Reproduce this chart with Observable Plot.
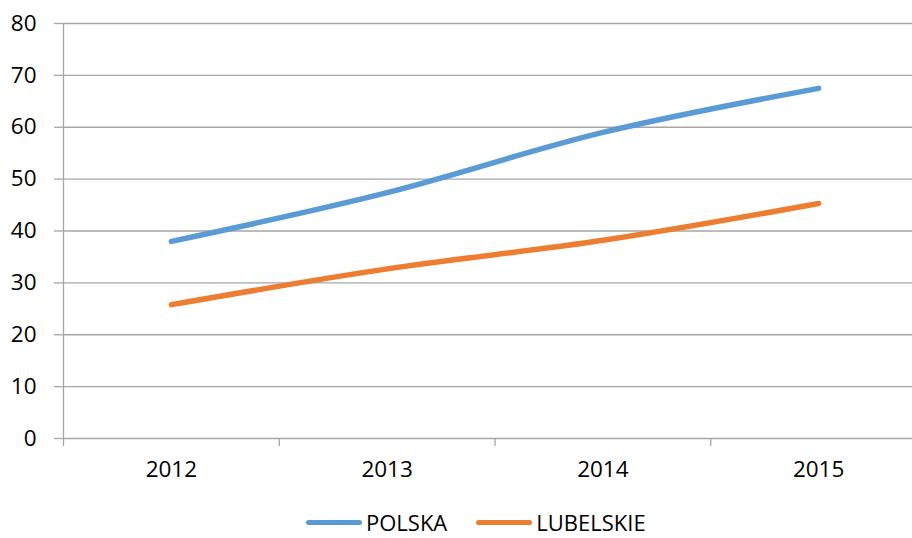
<!DOCTYPE html>
<html>
<head>
<meta charset="utf-8">
<script src="https://cdn.jsdelivr.net/npm/d3@7"></script>
<script src="https://cdn.jsdelivr.net/npm/@observablehq/plot@0.6"></script>
<style>
  html, body { margin: 0; padding: 0; background: #fff; }
  #wrap { width: 912px; height: 538px; overflow: hidden; position: relative; font-family: "Open Sans", sans-serif; }
  #chart { width: 926px; height: 500px; }
  #legend { position: absolute; top: 513px; left: 306px; display: flex; align-items: center; font-size: 22px; line-height: 18px; height: 18px; color: #000; white-space: nowrap; }
  .sw { display: inline-block; width: 56px; height: 5px; border-radius: 3px; margin-right: 4px; }
  .item { display: flex; align-items: center; margin-right: 29px; }
  .lbl { display: inline-block; height: 18px; line-height: 18px; }
</style>
</head>
<body>
<div id="wrap">
  <div id="chart"></div>
  <div id="legend"></div>
</div>
<script>
const years = [2012, 2013, 2014, 2015];
const polska = [38, 47.4, 59, 67.5];
const lubelskie = [25.8, 32.7, 38.2, 45.3];
const seriesNames = ["POLSKA", "LUBELSKIE"];
const seriesColors = ["#5B9BD5", "#ED7D31"];
const yTicks = [0, 10, 20, 30, 40, 50, 60, 70, 80];

const data = [];
years.forEach((yr, i) => {
  data.push({year: yr, value: polska[i], series: seriesNames[0]});
  data.push({year: yr, value: lubelskie[i], series: seriesNames[1]});
});

const xDomain = [years[0] - 0.5, years[years.length - 1] + 0.5];
const boundaries = d3.range(xDomain[0], xDomain[1] + 0.01, 1);
const gridColor = "#a6a6a6";

const chart = Plot.plot({
  width: 926,
  height: 500,
  marginLeft: 63,
  marginRight: 0,
  marginTop: 23,
  marginBottom: 62,
  style: {fontFamily: "Open Sans, sans-serif", fontSize: "22.5px", color: "#000", background: "#fff", overflow: "hidden"},
  x: {domain: xDomain, type: "linear"},
  y: {domain: [0, 80]},
  color: {domain: seriesNames, range: seriesColors},
  marks: [
    Plot.gridY(yTicks, {stroke: gridColor, strokeOpacity: 1, strokeWidth: 1.3}),
    Plot.ruleX([xDomain[0]], {y1: 0, y2: 80, stroke: gridColor, strokeWidth: 1.3}),
    Plot.axisY(yTicks, {tickSize: 9, tickPadding: 18, stroke: gridColor, strokeWidth: 1.3, label: null, fill: "#000"}),
    Plot.axisX(boundaries, {tickSize: 8, tickFormat: () => "", stroke: gridColor, strokeWidth: 1.3, label: null}),
    Plot.axisX(years, {tickSize: 0, tickPadding: 23, tickFormat: d => String(d), label: null, fill: "#000"}),
    Plot.line(data, {x: "year", y: "value", stroke: "series", z: "series", strokeWidth: 5.5, strokeLinecap: "round", strokeLinejoin: "round", curve: "catmull-rom"})
  ]
});
document.getElementById("chart").appendChild(chart);

const legend = document.getElementById("legend");
seriesNames.forEach((name, i) => {
  const item = document.createElement("div");
  item.className = "item";
  const sw = document.createElement("span");
  sw.className = "sw";
  sw.style.background = seriesColors[i];
  const t = document.createElement("span");
  t.className = "lbl";
  t.textContent = name;
  item.appendChild(sw);
  item.appendChild(t);
  legend.appendChild(item);
});
</script>
</body>
</html>
